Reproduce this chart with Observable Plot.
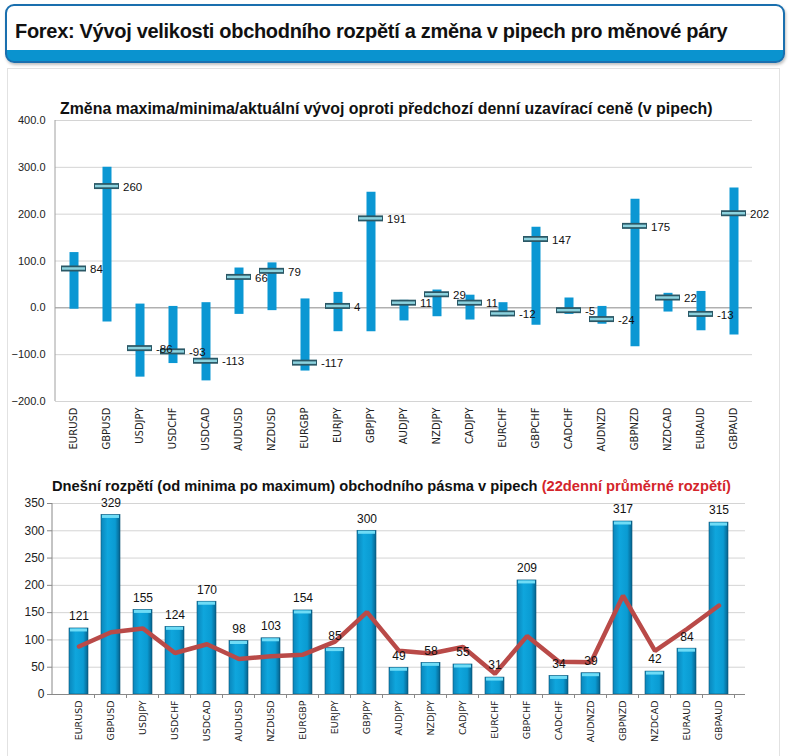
<!DOCTYPE html>
<html>
<head>
<meta charset="utf-8">
<script src="https://cdn.jsdelivr.net/npm/d3@7"></script>
<script src="https://cdn.jsdelivr.net/npm/@observablehq/plot@0.6"></script>
<style>
  body { margin: 0; background: #fff; font-family: "Liberation Sans", Arial, sans-serif; }
  #page { position: relative; width: 791px; height: 756px; overflow: hidden; }
  #header { position: absolute; left: 5px; top: 4px; width: 776px; height: 55px; border: 2px solid #1a6fae; border-radius: 9px; background: linear-gradient(#fff 0, #fff 44px, #0a93cf 44px, #0a93cf 100%); box-shadow: 1px 2px 3px rgba(0,0,0,0.25); }
  #header h1 { margin: 0; position: absolute; left: 8px; top: 14px; font-size: 20px; font-weight: bold; color: #111; white-space: nowrap; letter-spacing: -0.3px; }
  #panel { position: absolute; left: 7px; top: 68px; width: 771px; height: 700px; border: 1px solid #e2e2e2; border-bottom: none; }
  .ctitle { position: absolute; font-weight: bold; color: #111; white-space: nowrap; }
  .chart { position: absolute; left: 0; }
</style>
</head>
<body>
<div id="page">
  <div id="header"><h1>Forex: Vývoj velikosti obchodního rozpětí a změna v pipech pro měnové páry</h1></div>
  <div id="panel"></div>
  <div class="chart" id="c1" style="top:105px;"></div>
  <div class="chart" id="c2" style="top:488px;"></div>
  <div class="ctitle" id="t1" style="left:60px; top:100px; font-size:15.9px;">Změna maxima/minima/aktuální vývoj oproti předchozí denní uzavírací ceně (v pipech)</div>
  <div class="ctitle" id="t2" style="left:52px; top:478px; font-size:14.7px;">Dnešní rozpětí (od minima po maximum) obchodního pásma v pipech <span style="color:#d4252b">(22denní průměrné rozpětí)</span></div>
</div>
<script>
const pairs = ["EURUSD","GBPUSD","USDJPY","USDCHF","USDCAD","AUDUSD","NZDUSD","EURGBP","EURJPY","GBPJPY","AUDJPY","NZDJPY","CADJPY","EURCHF","GBPCHF","CADCHF","AUDNZD","GBPNZD","NZDCAD","EURAUD","GBPAUD"];
const highs = [118, 300, 8, 3, 11, 85, 96, 19, 33, 247, 16, 38, 27, 11, 172, 21, 3, 232, 31, 35, 256];
const lows = [-3, -30, -148, -119, -156, -14, -6, -135, -51, -51, -28, -19, -26, -19, -37, -14, -35, -83, -9, -49, -58];
const current = [84, 260, -86, -93, -113, 66, 79, -117, 4, 191, 11, 29, 11, -12, 147, -5, -24, 175, 22, -13, 202];
const todayRange = [121, 329, 155, 124, 170, 98, 103, 154, 85, 300, 49, 58, 55, 31, 209, 34, 39, 317, 42, 84, 315];
const avgRange = [88, 114, 121, 76, 92, 65, 70, 73, 97, 151, 80, 75, 87, 38, 107, 60, 59, 181, 80, 120, 163];
const topTicks = [-200, -100, 0, 100, 200, 300, 400];
const bottomTicks = [0, 50, 100, 150, 200, 250, 300, 350];

const topData = pairs.map((p, i) => ({pair: p, hi: highs[i], lo: lows[i], cur: current[i]}));
const botData = pairs.map((p, i) => ({pair: p, today: todayRange[i], avg: avgRange[i]}));

const font = "'Liberation Sans', Arial, sans-serif";

const chart1 = Plot.plot({
  width: 791, height: 355,
  marginLeft: 55, marginRight: 39, marginTop: 15, marginBottom: 59,
  style: {fontFamily: font, fontSize: "11px", color: "#222", background: "transparent"},
  x: {type: "band", domain: pairs, padding: 0, label: null},
  y: {domain: [-200, 400], label: null},
  marks: [
    Plot.gridY(topTicks.filter(d => d !== 0), {stroke: "#d4d4d4", strokeOpacity: 1}),
    Plot.ruleY([0], {stroke: "#8a8a8a"}),
    Plot.axisY({ticks: topTicks, tickFormat: d3.format(".1f"), tickSize: 0, tickPadding: 10, fontSize: 11, label: null}),
    Plot.axisX({tickSize: 0, tickRotate: -90, tickPadding: 6, fontSize: 10, label: null, fontFamily: "'DejaVu Sans', sans-serif"}),
    Plot.ruleX(topData, {x: "pair", y1: "lo", y2: "hi", stroke: "#0b97d3", strokeWidth: 9}),
    Plot.tickY(topData, {x: "pair", y: "cur", stroke: "#2b5866", strokeWidth: 6, insetLeft: 4, insetRight: 4}),
    Plot.tickY(topData, {x: "pair", y: "cur", stroke: "#8cd2de", strokeWidth: 2.5, insetLeft: 5, insetRight: 5}),
    Plot.text(topData, {x: "pair", y: "cur", text: d => String(d.cur), dx: 16, dy: 1, textAnchor: "start", fontSize: 11.5, fill: "#111"})
  ]
});
d3.select(chart1).append("line").attr("x1", 55).attr("x2", 55).attr("y1", 15).attr("y2", 296).attr("stroke", "#a0a0a0");
document.getElementById("c1").appendChild(chart1);

const chart2 = Plot.plot({
  width: 791, height: 266,
  marginLeft: 52, marginRight: 46, marginTop: 15, marginBottom: 60,
  style: {fontFamily: font, fontSize: "12px", color: "#222", background: "transparent"},
  x: {type: "band", domain: pairs, padding: 0.4, label: null},
  y: {domain: [0, 350], label: null},
  marks: [
    Plot.gridY(bottomTicks.filter(d => d !== 0), {stroke: "#d4d4d4", strokeOpacity: 1}),
    Plot.axisY({ticks: bottomTicks, tickSize: 5, tickPadding: 3, fontSize: 12, label: null, stroke: "#888"}),
    Plot.axisX({tickSize: 0, tickRotate: -90, tickPadding: 6, fontSize: 9.5, label: null, fontFamily: "'DejaVu Sans', sans-serif"}),
    Plot.barY(botData, {x: "pair", y: "today", fill: "url(#barGrad)", stroke: "#0a5577", strokeWidth: 0.6}),
    Plot.tickY(botData, {x: "pair", y: "today", stroke: "#6fdcf6", strokeWidth: 3, dy: 1.5, insetLeft: 1, insetRight: 1}),
    Plot.ruleY([0], {stroke: "#888"}),
    Plot.line(botData, {x: "pair", y: "avg", stroke: "#b94a48", strokeWidth: 4.5, strokeLinejoin: "miter"}),
    Plot.text(botData, {x: "pair", y: "today", text: d => String(d.today), dy: -12, fontSize: 12, fill: "#111"})
  ]
});
const svg2 = d3.select(chart2);
const defs = svg2.insert("defs", ":first-child");
const g = defs.append("linearGradient").attr("id", "barGrad").attr("x1", "0").attr("x2", "1").attr("y1", "0").attr("y2", "0");
g.append("stop").attr("offset", "0%").attr("stop-color", "#0a86bb");
g.append("stop").attr("offset", "35%").attr("stop-color", "#0fa6dd");
g.append("stop").attr("offset", "75%").attr("stop-color", "#0a9bd2");
g.append("stop").attr("offset", "100%").attr("stop-color", "#06628d");
svg2.append("line").attr("x1", 52).attr("x2", 52).attr("y1", 15).attr("y2", 206).attr("stroke", "#888");
const xs = chart2.scale("x");
pairs.forEach(p => {
  const xb = xs.apply(p) + xs.bandwidth + (xs.step - xs.bandwidth) / 2;
  svg2.append("line").attr("x1", xb).attr("x2", xb).attr("y1", 206).attr("y2", 210).attr("stroke", "#888");
});
document.getElementById("c2").appendChild(chart2);
</script>
</body>
</html>
